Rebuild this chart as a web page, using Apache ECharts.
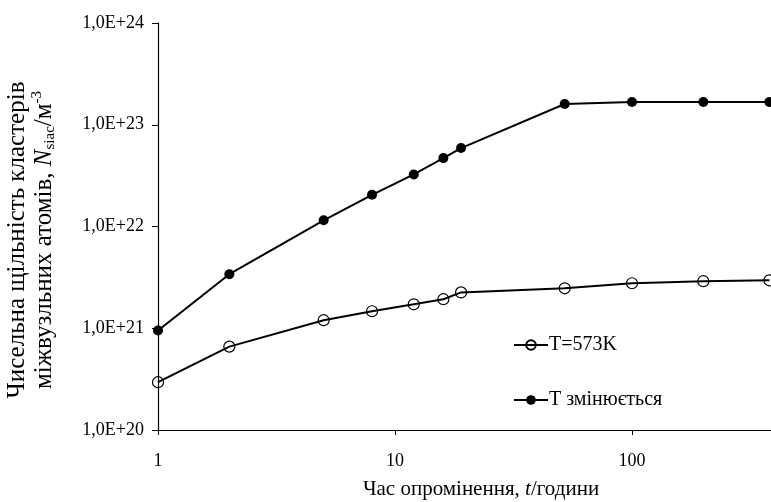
<!DOCTYPE html>
<html><head><meta charset="utf-8">
<script src="https://cdn.jsdelivr.net/npm/echarts@6/dist/echarts.min.js"></script>
<style>html,body{margin:0;padding:0;background:#fff}#c{width:771px;height:502px}</style>
</head><body><div id="c"></div>
<script>
var hours = [1, 2, 5, 8, 12, 16, 19, 52, 100, 200, 380];
var constT = [2.95e20, 6.6e20, 1.2e21, 1.47e21, 1.72e21, 1.93e21, 2.25e21, 2.47e21, 2.77e21, 2.9e21, 2.96e21];
var varT = [9.5e20, 3.4e21, 1.15e22, 2.05e22, 3.25e22, 4.7e22, 5.9e22, 1.6e23, 1.67e23, 1.67e23, 1.67e23];
var seriesNames = ['T=573K', 'T змінюється'];
var xTitle = 'Час опромінення, ';
var yTitle1 = 'Чисельна щільність кластерів';
var yTitle2 = 'міжвузльних атомів, ';

var FONT = '"Liberation Serif", "DejaVu Serif", serif';
function pairs(xs, ys){ return xs.map(function(x,i){ return [x, ys[i]]; }); }

var chart = echarts.init(document.getElementById('c'));
chart.setOption({
  animation: false,
  backgroundColor: '#fff',
  grid: {left: 158, top: 23, right: 0, bottom: 72, containLabel: false},
  xAxis: {
    type: 'log', logBase: 10, min: 1, max: 386,
    axisLine: {lineStyle: {color: '#000', width: 1.2}},
    axisTick: {show: true, length: 5, lineStyle: {color: '#000'}},
    axisLabel: {color: '#000', fontFamily: FONT, fontSize: 18, margin: 22, showMaxLabel: false},
    splitLine: {show: false}, minorTick: {show: false}
  },
  yAxis: {
    type: 'log', logBase: 10, min: 1e20, max: 1e24,
    axisLine: {show: true, lineStyle: {color: '#000', width: 1.2}},
    axisTick: {show: true, length: 6, lineStyle: {color: '#000'}},
    axisLabel: {color: '#000', fontFamily: FONT, fontSize: 18, margin: 14,
      formatter: function(v){ var e = Math.round(Math.log10(v)); return '1,0E+' + e; }},
    splitLine: {show: false}
  },
  legend: {
    orient: 'vertical', left: 508, top: 330, itemGap: 35, itemWidth: 34, itemHeight: 12,
    textStyle: {color: '#000', fontFamily: FONT, fontSize: 20, padding: [0,0,0,-4]},
    data: seriesNames
  },
  graphic: [
    {type: 'text', x: 17, y: 240, rotation: Math.PI/2,
     style: {text: yTitle1, font: '25px ' + FONT, fill: '#000', align: 'center', verticalAlign: 'middle'}},
    {type: 'text', x: 44, y: 240, rotation: Math.PI/2,
     style: {text: yTitle2 + '{i|N}{sub|siac}/м{sup|-3}', fill: '#000', align: 'center', verticalAlign: 'middle',
       font: '25px ' + FONT, lineHeight: 28,
       rich: {
         i: {fontStyle: 'italic', fontSize: 25, fontFamily: FONT, fill: '#000', lineHeight: 28},
         sub: {fontSize: 15, fontFamily: FONT, fill: '#000', verticalAlign: 'bottom', lineHeight: 28, padding: [7,0,0,0]},
         sup: {fontSize: 15, fontFamily: FONT, fill: '#000', verticalAlign: 'top', lineHeight: 28, padding: [0,0,9,0]}
       }}},
    {type: 'text', x: 481, y: 489,
     style: {text: xTitle + '{i|t}/години', font: '21px ' + FONT, fill: '#000', align: 'center', verticalAlign: 'middle',
       rich: {i: {fontStyle: 'italic', fontSize: 21, fontFamily: FONT, fill: '#000'}}}}
  ],
  series: [
    {name: seriesNames[0], type: 'line', data: pairs(hours, constT),
     symbol: 'circle', symbolSize: 11, showSymbol: true,
     lineStyle: {color: '#000', width: 2},
     itemStyle: {color: 'rgba(255,255,255,0)', borderColor: '#000', borderWidth: 1.2}},
    {name: seriesNames[1], type: 'line', data: pairs(hours, varT),
     symbol: 'circle', symbolSize: 10, showSymbol: true,
     lineStyle: {color: '#000', width: 2},
     itemStyle: {color: '#000', borderColor: '#000', borderWidth: 0}}
  ]
});
</script>
</body></html>
